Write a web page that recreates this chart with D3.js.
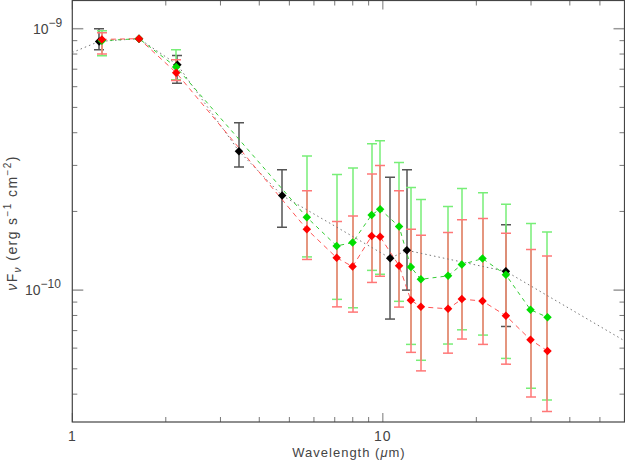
<!DOCTYPE html>
<html>
<head>
<meta charset="utf-8">
<script src="https://cdn.jsdelivr.net/npm/d3@7"></script>
<style>
  body { margin: 0; background: #fff; }
  text { font-family: "Liberation Sans", "DejaVu Sans", sans-serif; fill: #444; }
</style>
</head>
<body>
<svg id="chart" width="625" height="461"></svg>
<script>
// black points (with dotted line)
var blackWl   = [1.22, 1.64, 2.18, 3.44, 4.74, 10.56, 11.95, 24.9];
var blackFlux = [8.94e-10, 9.16e-10, 7.28e-10, 3.40e-10, 2.30e-10, 1.325e-10, 1.42e-10, 1.18e-10];
var blackHi   = [1.0e-9, 9.16e-10, 7.9e-10, 4.37e-10, 2.89e-10, 2.70e-10, 2.89e-10, 1.78e-10];
var blackLo   = [8.3e-10, 9.16e-10, 6.19e-10, 2.96e-10, 1.74e-10, 7.75e-11, 1.0e-10, 7.26e-11];

// dotted line, black points plus the two ends
var modelWl   = [1.0, 1.22, 1.64, 2.18, 3.44, 4.74, 10.56, 11.95, 24.9, 60];
var modelFlux = [8.11e-10, 8.94e-10, 9.16e-10, 7.28e-10, 3.40e-10, 2.30e-10, 1.325e-10, 1.42e-10, 1.18e-10, 6.4e-11];

// wavelengths shared by green and red
var specWl = [1.245, 1.64, 2.16, 5.69, 7.10, 7.99, 9.20, 9.80, 11.28, 12.31, 13.26, 16.22, 17.96, 20.94, 24.9, 29.89, 33.9];

var greenFlux = [9.0e-10, 9.16e-10, 7.13e-10, 1.90e-10, 1.476e-10, 1.52e-10, 1.94e-10, 2.04e-10, 1.75e-10, 1.225e-10, 1.10e-10, 1.134e-10, 1.253e-10, 1.32e-10, 1.144e-10, 8.41e-11, 7.87e-11];
var greenHi   = [9.83e-10, 9.16e-10, 8.3e-10, 3.26e-10, 2.77e-10, 2.93e-10, 3.63e-10, 3.73e-10, 3.08e-10, 2.47e-10, 2.22e-10, 2.09e-10, 2.45e-10, 2.36e-10, 2.13e-10, 1.80e-10, 1.67e-10];
var greenLo   = [7.88e-10, 9.16e-10, 6.38e-10, 1.34e-10, 9.22e-11, 8.56e-11, 1.19e-10, 1.15e-10, 9.06e-11, 6.2e-11, 5.39e-11, 6.22e-11, 7.05e-11, 6.73e-11, 5.48e-11, 4.21e-11, 3.80e-11];

var redFlux = [9.1e-10, 9.16e-10, 6.79e-10, 1.71e-10, 1.33e-10, 1.23e-10, 1.61e-10, 1.60e-10, 1.24e-10, 9.15e-11, 8.63e-11, 8.48e-11, 9.24e-11, 9.08e-11, 7.98e-11, 6.46e-11, 5.85e-11];
var redHi   = [9.65e-10, 9.16e-10, 7.61e-10, 2.40e-10, 1.83e-10, 1.92e-10, 2.78e-10, 3.0e-10, 2.40e-10, 1.71e-10, 1.62e-10, 1.66e-10, 1.86e-10, 1.88e-10, 1.65e-10, 1.43e-10, 1.35e-10];
var redLo   = [8.0e-10, 9.16e-10, 6.34e-10, 1.31e-10, 8.63e-11, 8.24e-11, 1.07e-10, 1.13e-10, 8.61e-11, 5.78e-11, 4.91e-11, 5.74e-11, 6.5e-11, 6.2e-11, 5.21e-11, 3.90e-11, 3.43e-11];

var xMajor = [1, 10];
var xMinor = [2, 3, 4, 5, 6, 7, 8, 9, 20, 30, 40, 50];
var yMajor = [{v: 1e-9, exp: "\u22129"}, {v: 1e-10, exp: "\u221210"}];
var yMinor = [4e-11, 5e-11, 6e-11, 7e-11, 8e-11, 9e-11, 2e-10, 3e-10, 4e-10, 5e-10, 6e-10, 7e-10, 8e-10, 9e-10];

// plot box (note: "top" is taken by window.top)
var pLeft = 72.3, pRight = 624.5, pTop = 0.5, pBottom = 422;

var svg = d3.select("#chart");

var x = d3.scaleLog().domain([1, 60]).range([pLeft, pRight]);
var y = d3.scaleLog().domain([3.13e-11, 1.282e-9]).range([pBottom, pTop]);

var plot = svg.append("g");
svg.append("clipPath").attr("id", "clip")
    .append("rect").attr("x", pLeft).attr("y", pTop).attr("width", pRight - pLeft).attr("height", pBottom - pTop);

// ticks, inside on all four sides
var tickCol = "#777";
xMajor.concat(xMinor).forEach(function(v) {
    var len = xMajor.indexOf(v) >= 0 ? 9 : 5;
    plot.append("line").attr("x1", x(v)).attr("x2", x(v)).attr("y1", pBottom).attr("y2", pBottom - len)
        .attr("stroke", tickCol);
    plot.append("line").attr("x1", x(v)).attr("x2", x(v)).attr("y1", pTop).attr("y2", pTop + len)
        .attr("stroke", tickCol);
});
yMajor.map(function(d) { return d.v; }).concat(yMinor).forEach(function(v) {
    var major = (v === 1e-9 || v === 1e-10);
    var len = major ? 11 : 5;
    plot.append("line").attr("x1", pLeft).attr("x2", pLeft + len).attr("y1", y(v)).attr("y2", y(v))
        .attr("stroke", major ? "#999" : tickCol).attr("stroke-width", major ? 1.5 : 1);
    plot.append("line").attr("x1", pRight).attr("x2", pRight - len).attr("y1", y(v)).attr("y2", y(v))
        .attr("stroke", major ? "#999" : tickCol).attr("stroke-width", major ? 1.5 : 1);
});

// frame
plot.append("rect").attr("x", pLeft).attr("y", pTop).attr("width", pRight - pLeft).attr("height", pBottom - pTop)
    .attr("fill", "none").attr("stroke", "#444").attr("stroke-width", 1.2);

// tick labels
xMajor.forEach(function(v) {
    svg.append("text").attr("x", x(v)).attr("y", 441).attr("text-anchor", "middle")
        .attr("font-size", 14).attr("letter-spacing", 1).text(v);
});
yMajor.forEach(function(d) {
    var t = svg.append("text").attr("y", y(d.v) + 5).attr("x", d.v === 1e-9 ? 33 : 25).attr("font-size", 14);
    t.append("tspan").text("10");
    t.append("tspan").attr("dy", -7).attr("font-size", 12).text(d.exp);
});

// axis titles
var xt = svg.append("text").attr("x", 349).attr("y", 457).attr("text-anchor", "middle")
    .attr("font-size", 13).attr("letter-spacing", 1);
xt.append("tspan").text("Wavelength (");
xt.append("tspan").attr("font-style", "italic").text("\u03bc");
xt.append("tspan").text("m)");

var yt = svg.append("text").attr("transform", "translate(17,223) rotate(-90)")
    .attr("text-anchor", "middle").attr("font-size", 14).attr("letter-spacing", 1.4);
yt.append("tspan").attr("font-style", "italic").text("\u03bd");
yt.append("tspan").text("F");
yt.append("tspan").attr("dy", 4).attr("font-size", 10).attr("font-style", "italic").text("\u03bd");
yt.append("tspan").attr("dy", -4).text(" (erg s");
yt.append("tspan").attr("dy", -6).attr("font-size", 10).text("\u22121");
yt.append("tspan").attr("dy", 6).text(" cm");
yt.append("tspan").attr("dy", -6).attr("font-size", 10).text("\u22122");
yt.append("tspan").attr("dy", 6).text(")");

var area = svg.append("g").attr("clip-path", "url(#clip)");
var barLayer = area.append("g");
var lineLayer = area.append("g");
var markLayer = area.append("g");

function drawSeries(wl, flux, lo, hi, barCol, lineCol, markCol, dash, capW) {
    var pts = wl.map(function(w, i) { return {w: w, f: flux[i], lo: lo[i], hi: hi[i]}; });
    var line = d3.line().x(function(d) { return x(d.w); }).y(function(d) { return y(d.f); });
    lineLayer.append("path").datum(pts).attr("d", line).attr("fill", "none")
        .attr("stroke", lineCol).attr("stroke-width", 1).attr("stroke-dasharray", dash);
    var bars = barLayer.append("g").attr("stroke", barCol).attr("stroke-width", 1.5);
    pts.filter(function(d) { return d.hi > d.lo; }).forEach(function(d) {
        var cx = Math.round(x(d.w));
        bars.append("line").attr("x1", cx).attr("x2", cx).attr("y1", y(d.hi)).attr("y2", y(d.lo));
        bars.append("line").attr("x1", cx - capW).attr("x2", cx + capW).attr("y1", y(d.hi)).attr("y2", y(d.hi));
        bars.append("line").attr("x1", cx - capW).attr("x2", cx + capW).attr("y1", y(d.lo)).attr("y2", y(d.lo));
    });
    markLayer.append("g").selectAll("path").data(pts).enter().append("path")
        .attr("d", d3.symbol(d3.symbolDiamond2, 46))
        .attr("transform", function(d) { return "translate(" + x(d.w) + "," + y(d.f) + ")"; })
        .attr("fill", markCol);
}

// dotted line first
lineLayer.append("path").datum(modelWl.map(function(w, i) { return {w: w, f: modelFlux[i]}; }))
    .attr("d", d3.line().x(function(d) { return x(d.w); }).y(function(d) { return y(d.f); }))
    .attr("fill", "none").attr("stroke", "#777").attr("stroke-width", 1).attr("stroke-dasharray", "1.5,3");

drawSeries(blackWl, blackFlux, blackLo, blackHi, "#555", "none", "#000", null, 5);
drawSeries(specWl, greenFlux, greenLo, greenHi, "#7e7", "#3c3", "#00dd00", "4,4", 5);
drawSeries(specWl, redFlux, redLo, redHi, "#f77", "#f55", "#ff0000", "5,4", 5);
</script>
</body>
</html>
